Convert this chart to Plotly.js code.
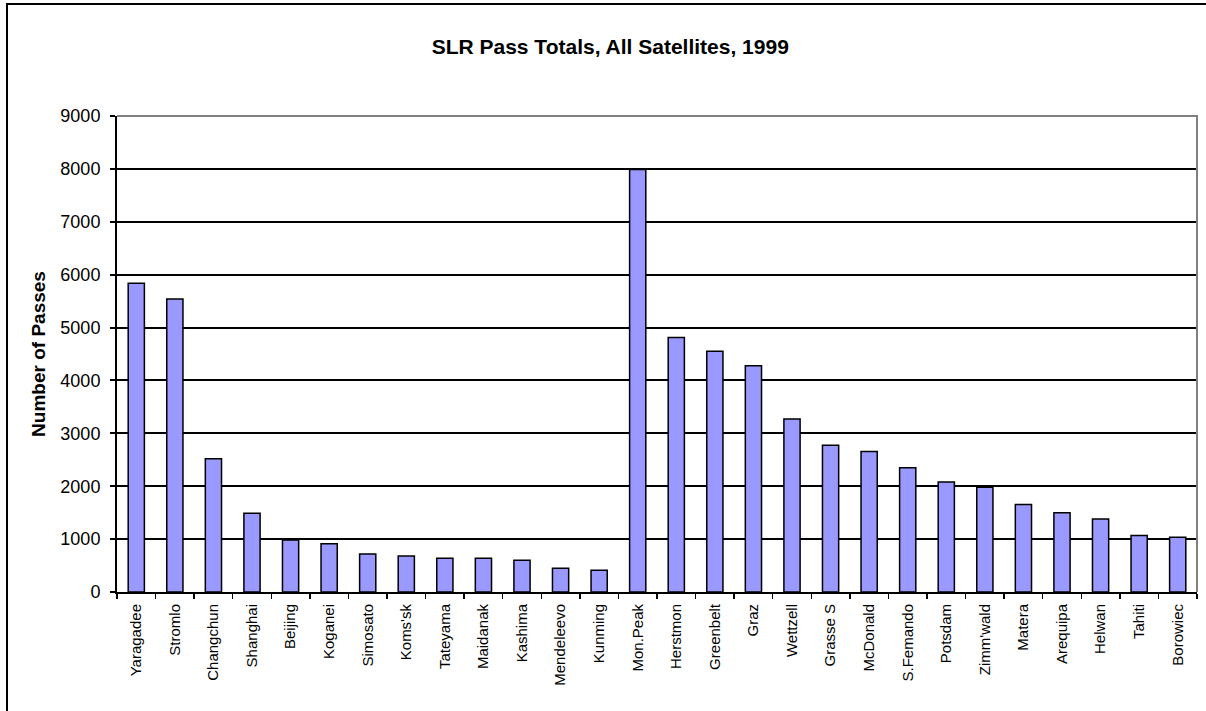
<!DOCTYPE html>
<html>
<head>
<meta charset="utf-8">
<script src="https://cdn.plot.ly/plotly-3.0.1.min.js"></script>
<style>
  html, body { margin: 0; padding: 0; background: #ffffff; }
  #chart { width: 1206px; height: 711px; position: relative; }
  #frame { position: absolute; left: 6px; top: 3px; width: 1300px; height: 800px;
           border-left: 2px solid #000; border-top: 2px solid #000; pointer-events: none; }
  #wrap { position: relative; width: 1206px; height: 711px; overflow: hidden; }
</style>
</head>
<body>
<div id="wrap">
  <div id="chart"></div>
  <div id="frame"></div>
</div>
<script>
const stations = ["Yaragadee","Stromlo","Changchun","Shanghai","Beijing","Koganei","Simosato","Koms'sk","Tateyama","Maidanak","Kashima","Mendeleevo","Kunming","Mon.Peak","Herstmon","Greenbelt","Graz","Wettzell","Grasse S","McDonald","S.Femando","Potsdam","Zimm'wald","Matera","Arequipa","Helwan","Tahiti","Borowiec"];
const passes = [5840, 5540, 2520, 1490, 985, 910, 720, 680, 640, 640, 600, 450, 410, 7990, 4810, 4550, 4280, 3270, 2775, 2655, 2350, 2080, 1980, 1655, 1500, 1380, 1070, 1035];
const yTicks = [0, 1000, 2000, 3000, 4000, 5000, 6000, 7000, 8000, 9000];
const chartTitle = "SLR Pass Totals, All Satellites, 1999";
const yTitle = "Number of Passes";

const font = "Liberation Sans, Arial, sans-serif";

const trace = {
  type: "bar",
  x: stations,
  y: passes,
  marker: { color: "#9999ff", line: { color: "#000000", width: 1.5 } },
  hoverinfo: "x+y"
};

const layout = {
  width: 1206,
  height: 711,
  paper_bgcolor: "#ffffff",
  plot_bgcolor: "#ffffff",
  margin: { l: 117, r: 9, t: 116, b: 119, pad: 0 },
  bargap: 0.58,
  showlegend: false,
  title: {
    text: "<b>" + chartTitle + "</b>",
    font: { family: font, size: 21, color: "#000" },
    x: 0.506, xref: "container", xanchor: "center",
    y: 1 - 47 / 711, yref: "container", yanchor: "middle"
  },
  xaxis: {
    type: "category",
    tickangle: -90,
    tickson: "boundaries",
    ticks: "outside",
    ticklen: 5,
    tickcolor: "#000",
    tickwidth: 1.5,
    showline: true,
    linecolor: "#000",
    linewidth: 2,
    showgrid: false,
    ticklabelstandoff: 4,
    tickfont: { family: font, size: 15, color: "#000" },
    automargin: false
  },
  yaxis: {
    range: [0, 9000],
    tickvals: yTicks,
    ticktext: yTicks.map(String),
    ticks: "outside",
    ticklen: 5,
    tickcolor: "#000",
    tickwidth: 2,
    showline: true,
    linecolor: "#000",
    linewidth: 2,
    showgrid: true,
    gridcolor: "#000",
    gridwidth: 2,
    zeroline: false,
    ticklabelstandoff: 6,
    tickfont: { family: font, size: 18, color: "#000" },
    title: {
      text: "<b>" + yTitle + "</b>",
      font: { family: font, size: 19, color: "#000" },
      standoff: 10
    },
    automargin: false
  },
  shapes: [
    {
      type: "path", xref: "paper", yref: "paper",
      path: "M0,1 L1,1 L1,0",
      line: { color: "#808080", width: 2 },
      layer: "above"
    }
  ]
};

Plotly.newPlot("chart", [trace], layout, { staticPlot: true, displayModeBar: false });
</script>
</body>
</html>
